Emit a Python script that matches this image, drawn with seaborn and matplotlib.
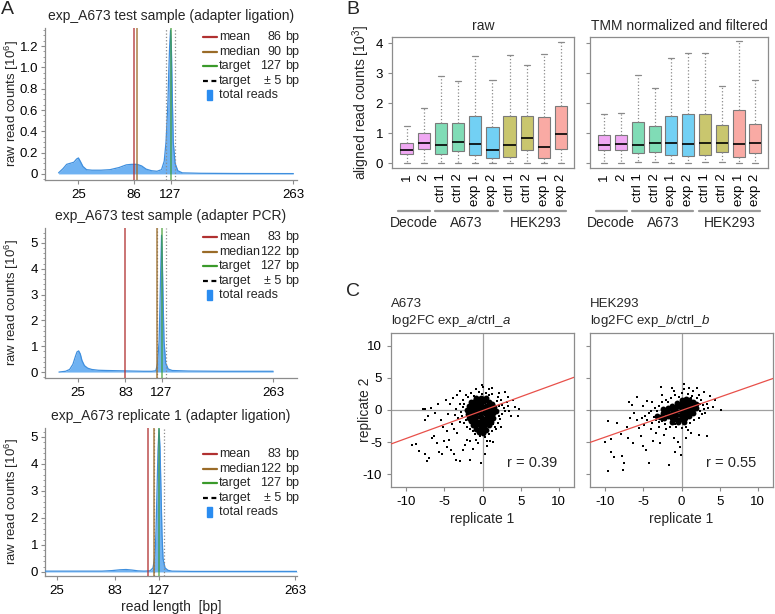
import numpy as np
import pandas as pd
import matplotlib
matplotlib.use("Agg")
import matplotlib.pyplot as plt
import matplotlib.transforms as mtransforms
from matplotlib.lines import Line2D
from matplotlib.patches import Rectangle
from matplotlib.ticker import AutoMinorLocator
import seaborn as sns

# ---------------- data ----------------
# Panel A: read length distributions (counts in 10^6)
len_a1 = [3, 8, 12, 16, 20, 23, 25, 27, 30, 34, 40, 50, 60, 70, 78, 84, 90, 95, 100, 106,
          112, 117, 120, 122, 124, 125, 126, 127, 128, 129, 130, 132, 135, 140, 160, 200, 263]
cnt_a1 = [0.01, 0.05, 0.09, 0.10, 0.11, 0.14, 0.15, 0.12, 0.07, 0.04, 0.035, 0.035, 0.04, 0.06,
          0.085, 0.09, 0.09, 0.075, 0.045, 0.03, 0.025, 0.04, 0.12, 0.3, 0.65, 0.95, 1.2, 1.35,
          1.15, 0.7, 0.3, 0.1, 0.03, 0.01, 0.006, 0.004, 0.003]
len_a2 = [2, 10, 15, 19, 22, 24, 26, 28, 30, 33, 37, 42, 50, 60, 75, 90, 105, 115, 120, 122,
          124, 125, 126, 127, 128, 129, 130, 132, 135, 140, 160, 200, 263]
cnt_a2 = [0.0, 0.03, 0.1, 0.3, 0.6, 0.78, 0.82, 0.7, 0.45, 0.25, 0.15, 0.1, 0.07, 0.06, 0.05,
          0.04, 0.03, 0.03, 0.05, 0.3, 1.2, 2.5, 4.0, 5.3, 4.2, 2.6, 1.2, 0.35, 0.12, 0.06,
          0.04, 0.03, 0.03]
len_a3 = [13, 30, 50, 70, 80, 88, 94, 100, 106, 112, 118, 121, 123, 124, 125, 126, 127, 128,
          129, 130, 131, 133, 136, 140, 160, 200, 265]
cnt_a3 = [0.03, 0.03, 0.03, 0.03, 0.05, 0.08, 0.09, 0.07, 0.04, 0.03, 0.04, 0.15, 0.6, 1.5,
          3.0, 4.5, 5.3, 4.6, 3.0, 1.4, 0.5, 0.15, 0.06, 0.03, 0.02, 0.02, 0.02]

titles_a = ["exp_A673 test sample (adapter ligation)",
            "exp_A673 test sample (adapter PCR)",
            "exp_A673 replicate 1 (adapter ligation)"]
mean_pos = [86, 83, 116]          # where the mean line is drawn
median_pos = [90, 122, 122]
mean_lbl = ["86", "83", "83"]
median_lbl = ["90", "122", "122"]
target = 127
xticks_a = [[25, 86, 127, 263], [25, 83, 127, 263], [25, 83, 127, 263]]

# Panel B: boxplot summaries (10^3): whisker low, q1, median, q3, whisker high
box_labels = ["1", "2", "ctrl 1", "ctrl 2", "exp 1", "exp 2", "ctrl 1", "ctrl 2", "exp 1", "exp 2"]
box_colors = ["#f0a8f3", "#f0a8f3", "#80dcb6", "#80dcb6", "#72d0f4", "#72d0f4",
              "#c9c66e", "#c9c66e", "#f9aaa4", "#f9aaa4"]
raw_lo = [0, 0, 0, 0, 0, 0, 0, 0, 0, 0]
raw_q1 = [0.30, 0.47, 0.32, 0.40, 0.27, 0.17, 0.22, 0.44, 0.16, 0.46]
raw_med = [0.43, 0.67, 0.60, 0.70, 0.63, 0.45, 0.60, 0.85, 0.53, 0.97]
raw_q3 = [0.67, 1.00, 1.35, 1.33, 1.58, 1.20, 1.57, 1.58, 1.55, 1.92]
raw_hi = [1.23, 1.83, 2.90, 2.75, 3.57, 2.77, 3.60, 3.28, 3.65, 4.05]
tmm_lo = [0, 0, 0.03, 0.03, 0, 0, 0.03, 0.03, 0, 0]
tmm_q1 = [0.43, 0.43, 0.33, 0.38, 0.26, 0.23, 0.26, 0.37, 0.20, 0.33]
tmm_med = [0.61, 0.63, 0.62, 0.67, 0.67, 0.64, 0.67, 0.69, 0.64, 0.67]
tmm_q3 = [0.93, 0.95, 1.37, 1.24, 1.58, 1.63, 1.65, 1.26, 1.78, 1.30]
tmm_hi = [1.65, 1.67, 2.95, 2.50, 3.50, 3.68, 3.68, 2.57, 4.08, 2.76]
group_names = ["Decode", "A673", "HEK293"]
group_spans = [(-0.5, 1.35), (1.65, 5.3), (5.65, 9.3)]
group_centers = [0.4, 3.5, 7.5]

# Panel C: log2FC replicate 1 vs replicate 2
a673_core = [(-0.8, 1.8), (-0.2, 1.9), (0.4, 1.8), (-1.5, 1.2), (-1.0, 1.4), (-0.4, 1.3),
             (0.2, 1.4), (0.8, 1.2), (1.3, 1.0), (-1.8, 0.6), (-1.3, 0.8), (-0.8, 0.7), (-0.2, 0.8),
             (0.4, 0.7), (1.0, 0.6), (1.5, 0.5), (-2.0, 0.0), (-1.5, 0.2), (-1.0, 0.1), (-0.4, 0.2),
             (0.2, 0.1), (0.8, 0.0), (1.3, 0.1), (1.8, -0.1), (-1.9, -0.6), (-1.4, -0.4), (-0.9, -0.5),
             (-0.3, -0.4), (0.3, -0.5), (0.9, -0.6), (1.4, -0.5), (-1.8, -1.2), (-1.3, -1.0),
             (-0.8, -1.1), (-0.2, -1.1), (0.4, -1.2), (1.0, -1.0), (1.4, -1.2), (-1.5, -1.7),
             (-1.0, -1.6), (-0.5, -1.8), (0.1, -1.7), (0.7, -1.6), (1.1, -1.8), (-1.2, -2.3),
             (-0.7, -2.2), (-0.2, -2.4), (0.4, -2.2), (0.8, -2.4), (-0.8, -2.9), (-0.3, -3.0),
             (0.2, -2.8), (0.5, -3.1), (-0.4, -3.5), (0.1, -3.6)]
a673_rest = [(-3.0, 1.0), (-2.8, -0.3), (-3.2, -1.2), (-2.6, 1.6), (-2.4, -2.0), (-3.5, 0.2),
             (-2.9, -1.8), (-2.2, 2.3), (-1.5, 2.6), (-0.5, 2.8), (0.5, 2.7), (1.3, 2.5), (2.0, 2.0),
             (2.4, 1.5), (2.6, 0.8), (2.8, 0.3), (2.5, -0.6), (2.3, -1.4), (2.0, -2.0), (1.6, -2.6),
             (1.2, -3.2), (0.9, -3.8), (0.3, -4.2), (-0.3, -4.1), (-1.0, -3.7), (-1.6, -3.0),
             (-2.0, -2.6), (3.2, 1.2), (3.0, -0.2), (-0.9, 3.3), (0.1, 3.6), (0.8, 3.2), (-1.9, 2.0),
             (1.8, -3.0), (-0.8, -4.6), (0.6, -4.8), (-3.6, -0.8), (3.4, 0.6), (2.2, 2.6), (-2.5, 0.4),
             (-7.8, 0.1), (-7.5, 0.2), (-7.2, -1.0), (-7.6, -1.6), (-6.8, 0.3), (-6.2, -0.5),
             (-5.5, -1.5), (-5.2, -2.6), (-4.8, 1.5), (-4.5, -0.6), (-4.2, 0.9), (-3.9, 1.8),
             (-4.0, -2.2), (-3.8, -3.0), (-9.3, -5.5), (-8.7, -5.3), (-8.3, -6.4), (-7.6, -6.8),
             (-7.3, -8.0), (-7.0, -7.5), (-6.6, -4.3), (-6.3, -4.0), (-6.0, -5.2), (-5.7, -6.5),
             (-5.3, -6.8), (-5.0, -4.8), (-4.7, -5.8), (-4.4, -4.6), (-4.1, -6.3), (-3.8, -6.8),
             (-3.5, -7.8), (-3.0, -8.0), (-2.6, -6.2), (-2.3, -5.4), (-2.0, -4.6), (-1.6, -7.8),
             (-1.2, -6.1), (-0.6, -5.2), (-0.2, -8.2), (0.3, -6.8), (0.6, -5.6), (1.0, -4.9),
             (1.4, -5.0), (-1.7, -4.9), (-3.3, -3.6), (-4.6, -3.3), (3.5, -0.2), (4.0, 1.5),
             (4.3, 0.5), (4.8, 0.1), (4.6, -0.9), (3.8, -1.0), (2.9, 2.8), (3.3, 2.1), (-2.9, 2.9),
             (-0.1, 3.9), (1.2, 3.4), (-5.9, 0.9), (-3.4, 2.4), (2.4, -2.7), (-2.7, -1.0),
             (-2.4, 1.0), (1.9, 1.4), (2.1, -1.0), (-1.2, -3.3), (1.4, -2.2), (-2.2, -1.6),
             (0.9, 2.3), (-1.1, 2.2), (-0.1, 2.5), (2.2, 0.6)]
hek_core = [(-2.8, -1.1), (-2.3, -1.2), (-2.4, -0.5), (-1.8, -1.0), (-1.9, -0.3), (-1.8, 0.3),
            (-1.3, -1.2), (-1.3, -0.5), (-1.3, 0.1), (-1.2, 0.7), (-0.7, -1.4), (-0.7, -0.8),
            (-0.7, -0.1), (-0.7, 0.5), (-0.6, 1.1), (-0.1, -1.4), (-0.1, -0.8), (-0.1, -0.2),
            (-0.1, 0.4), (-0.1, 1.0), (0.0, 1.6), (0.5, -1.2), (0.5, -0.6), (0.5, 0.0), (0.5, 0.6),
            (0.5, 1.2), (0.6, 1.7), (1.0, -0.9), (1.0, -0.3), (1.0, 0.3), (1.0, 0.9), (1.0, 1.5),
            (1.5, -0.5), (1.5, 0.1), (1.5, 0.7), (1.5, 1.2), (1.9, 0.3), (1.9, 0.9), (-3.2, -0.9),
            (-2.4, 0.1), (-1.2, -1.8), (-0.4, -1.9), (0.3, -1.8)]
hek_rest = [(-4.5, -1.6), (-4.2, -0.5), (-4.8, -0.9), (-3.9, -2.0), (-3.5, 0.3), (-3.0, 0.6),
            (-2.6, 1.2), (-2.0, 1.6), (-1.4, 1.9), (-0.8, 2.4), (0.0, 2.6), (0.8, 2.5), (1.4, 2.2),
            (2.0, 1.8), (2.6, 1.5), (2.8, 0.8), (2.9, 0.1), (2.7, -0.7), (2.3, -1.2), (1.7, -1.6),
            (1.1, -2.0), (0.6, -2.6), (0.0, -2.8), (-0.7, -2.7), (-1.5, -2.6), (-2.2, -2.2),
            (-2.9, -1.9), (-3.4, -1.6), (-5.2, -1.2), (-4.9, -2.3), (3.3, 1.0), (3.1, -0.5),
            (3.5, 0.3), (-1.0, 3.0), (0.3, 3.3), (1.5, 2.9), (2.3, 2.4), (-3.0, -2.6), (-2.0, -3.0),
            (0.9, -3.1), (-10.0, -5.0), (-9.7, -9.5), (-9.2, -6.5), (-8.9, -7.3), (-8.0, -3.8),
            (-7.7, -9.4), (-7.5, -8.2), (-7.8, -7.2), (-9.3, -4.5), (-9.6, -1.7), (-8.4, -2.1),
            (-7.2, -2.7), (-6.9, 1.3), (-6.5, 0.8), (-6.2, -0.4), (-5.9, -1.5), (-5.6, -2.8),
            (-5.3, -4.0), (-5.0, -5.6), (-6.4, -5.1), (-7.0, -4.3), (-4.7, -6.2), (-4.2, -8.2),
            (-3.7, -4.8), (-3.3, -3.6), (-2.8, -5.1), (-2.3, -3.9), (-1.6, -8.6), (-1.0, -4.4),
            (-0.5, -5.0), (-0.2, -5.8), (-0.1, -7.0), (-0.9, -6.6), (0.6, -4.3), (1.3, -3.6),
            (2.3, -3.9), (3.3, -4.0), (-2.7, 3.6), (-1.2, 3.5), (0.3, 4.1), (1.0, 3.5), (2.0, 3.4),
            (2.9, 2.8), (3.8, 2.2), (4.4, 1.5), (5.2, 0.0), (4.1, 0.5), (-5.8, 2.0), (-4.5, 1.4),
            (-3.9, 1.2), (-6.8, -1.2), (-5.0, 0.6), (-4.0, -3.0), (-2.6, 2.4), (-3.6, -1.1),
            (-4.0, -0.2), (-3.2, -0.2), (2.4, -0.2), (2.4, 0.9), (-1.8, 1.2), (-0.3, 2.1),
            (1.2, 1.9), (-2.6, -1.7), (-0.9, -2.2)]
fit_slope = [0.433, 0.415]
fit_icpt = [-0.1, -0.07]
r_values = ["r = 0.39", "r = 0.55"]
c_titles = ["A673\nlog2FC exp_$\\mathit{a}$/ctrl_$\\mathit{a}$",
            "HEK293\nlog2FC exp_$\\mathit{b}$/ctrl_$\\mathit{b}$"]

# ---------------- style ----------------
sns.set_style("ticks")
plt.rcParams['font.family'] = ['Liberation Sans', 'DejaVu Sans']
plt.rcParams['mathtext.fontset'] = 'custom'
plt.rcParams['mathtext.rm'] = 'Liberation Sans'
plt.rcParams['mathtext.it'] = 'Liberation Sans:italic'
plt.rcParams['axes.unicode_minus'] = False
plt.rcParams['font.size'] = 9.5

W, H = 775, 614
fig = plt.figure(figsize=(W / 100, H / 100), dpi=100)
GRAY = "#8c8c8c"
MEAN_C, MED_C, TGT_C = "#b03030", "#9a6b28", "#3a9a2a"
FILL, EDGE = "#6fb2f2", "#3f8fde"


def px_axes(l, t, r, b):
    return fig.add_axes([l / W, 1 - b / H, (r - l) / W, (b - t) / H])


def style_frame(ax, full=True):
    for s in ax.spines.values():
        s.set_color(GRAY)
        s.set_linewidth(0.9)
    if not full:
        ax.spines['top'].set_visible(False)
        ax.spines['right'].set_visible(False)
    ax.tick_params(colors=GRAY, labelcolor="black", length=3, width=0.8, labelsize=9.5)


# ---------------- panel A ----------------
a_boxes = [(45, 28, 297, 180), (45, 228, 297, 378), (45, 428, 297, 576)]
a_lens = [len_a1, len_a2, len_a3]
a_cnts = [cnt_a1, cnt_a2, cnt_a3]
a_xlim = [(-12, 267), (-15, 292), (13, 265)]
a_ylim = [(-0.057, 1.37), (-0.23, 5.58), (-0.15, 5.33)]
a_leg_top = [37, 237, 454]

for i in range(3):
    ax = px_axes(*a_boxes[i])
    ax.fill_between(a_lens[i], a_cnts[i], color=FILL, lw=0, zorder=2)
    sns.lineplot(x=a_lens[i], y=a_cnts[i], color=EDGE, lw=0.9, ax=ax, zorder=3)
    for v in (target - 5, target + 5):
        ax.axvline(v, color="#8a8a8a", ls=":", lw=0.9, zorder=4)
    ax.axvline(mean_pos[i], color=MEAN_C, lw=1.1, alpha=0.85, zorder=5)
    ax.axvline(median_pos[i], color=MED_C, lw=1.1, alpha=0.85, zorder=5)
    ax.axvline(target, color=TGT_C, lw=1.1, alpha=0.75, zorder=5)
    ax.set_xlim(*a_xlim[i])
    ax.set_ylim(*a_ylim[i])
    ax.set_xticks(xticks_a[i])
    if i == 0:
        ax.set_yticks([0, 0.2, 0.4, 0.6, 0.8, 1.0, 1.2], ["0", "0.2", "0.4", "0.6", "0.8", "1.0", "1.2"])
        ax.yaxis.set_minor_locator(AutoMinorLocator(4))
    else:
        ax.set_yticks([0, 1, 2, 3, 4, 5])
        ax.yaxis.set_minor_locator(AutoMinorLocator(5))
    style_frame(ax, full=False)
    ax.tick_params(axis='y', which='major', pad=2)
    ax.tick_params(axis='y', which='minor', length=1.8, colors=GRAY)
    ax.set_ylabel("raw read counts [10$^{6}$]", fontsize=9.5)
    ax.yaxis.set_label_coords(-0.094, 0.5)
    ax.set_title(titles_a[i], fontsize=10, pad=6)
    if i == 2:
        ax.set_xlabel("read length  [bp]", fontsize=10, labelpad=2)

    # legend block
    names = ["mean", "median", "target", "target", "total reads"]
    vals = [mean_lbl[i], median_lbl[i], "127", "\u00b1 5"]
    styles = [(MEAN_C, "-"), (MED_C, "-"), (TGT_C, "-"), ("black", (0, (2.2, 1.6)))]
    for k, name in enumerate(names):
        yy = 1 - (a_leg_top[i] + k * 14.6) / H
        if k < 4:
            fig.add_artist(Line2D([203 / W, 217 / W], [yy, yy], color=styles[k][0],
                                  ls=styles[k][1], lw=1.6))
            fig.text(281 / W, yy, vals[k], ha="right", va="center", fontsize=9)
            fig.text(285 / W, yy, "bp", ha="left", va="center", fontsize=9)
        else:
            fig.add_artist(Rectangle((207 / W, yy - 5 / H), 5 / W, 10 / H, color="#2a8cf0"))
        fig.text(219 / W, yy, name, ha="left", va="center", fontsize=9)

# ---------------- panel B ----------------
box_ids = [f"s{i}" for i in range(10)]
b_sets = [(raw_lo, raw_q1, raw_med, raw_q3, raw_hi), (tmm_lo, tmm_q1, tmm_med, tmm_q3, tmm_hi)]
b_boxes = [(392, 37, 574, 168), (590, 37, 768, 168)]
b_titles = ["raw", "TMM normalized and filtered"]
for j in range(2):
    ax = px_axes(*b_boxes[j])
    rows = []
    for k in range(10):
        for arr in b_sets[j]:
            rows.append({"id": box_ids[k], "val": arr[k]})
    df = pd.DataFrame(rows)
    sns.boxplot(data=df, x="id", y="val", hue="id", order=box_ids, hue_order=box_ids,
                palette=dict(zip(box_ids, box_colors)), whis=(0, 100), width=0.72,
                saturation=1, linewidth=0.8, linecolor="#7a7a7a", showfliers=False,
                legend=False, ax=ax,
                medianprops=dict(color="black", lw=1.2),
                whiskerprops=dict(ls=":", color="#8a8a8a", lw=0.9),
                capprops=dict(color="#8a8a8a", lw=0.9))
    ax.set_xlim(-0.85, 9.75)
    ax.set_ylim(-0.157, 4.21)
    ax.set_yticks([0, 1, 2, 3, 4])
    ax.set_xticks(range(10))
    ax.set_xticklabels(box_labels, rotation=90, fontsize=9.5)
    style_frame(ax)
    ax.tick_params(axis="x", length=0, pad=4)
    ax.set_xlabel("")
    ax.set_title(b_titles[j], fontsize=10, pad=5)
    if j == 0:
        ax.set_ylabel("aligned read counts [10$^{3}$]", fontsize=10)
        ax.yaxis.set_label_coords(-0.11, 0.5)
    else:
        ax.set_ylabel("")
        ax.set_yticklabels([])
    trans = mtransforms.blended_transform_factory(ax.transData, ax.transAxes)
    for name, (x0, x1), xc in zip(group_names, group_spans, group_centers):
        ax.plot([x0, x1], [-0.33, -0.33], color="#9a9a9a", lw=1.6, transform=trans, clip_on=False)
        ax.text(xc, -0.37, name, ha="center", va="top", fontsize=10, transform=trans)

# ---------------- panel C ----------------
c_boxes = [(391, 333, 574, 487), (590, 333, 773, 487)]
c_core = [a673_core, hek_core]
c_rest = [a673_rest, hek_rest]
for j in range(2):
    ax = px_axes(*c_boxes[j])
    ax.axhline(0, color="#a0a0a0", lw=0.9, zorder=1)
    ax.axvline(0, color="#a0a0a0", lw=0.9, zorder=1)
    core = np.array(c_core[j])
    rest = np.array(c_rest[j])
    sns.scatterplot(x=core[:, 0], y=core[:, 1], s=18, color="black", linewidth=0, ax=ax, zorder=3)
    sns.scatterplot(x=rest[:, 0], y=rest[:, 1], s=3.5, color="black", linewidth=0, marker="s",
                    ax=ax, zorder=3)
    ax.axline((0, fit_icpt[j]), slope=fit_slope[j], color="#e8504a", lw=0.9, zorder=4)
    ax.set_xlim(-12, 12)
    ax.set_ylim(-12, 12)
    ax.set_xticks([-10, -5, 0, 5, 10])
    ax.set_yticks([-10, -5, 0, 5, 10])
    style_frame(ax)
    ax.text(0.77, 0.155, r_values[j], transform=ax.transAxes, ha="center", va="center", fontsize=10.5)
    ax.text(0.0, 1.025, c_titles[j], transform=ax.transAxes, ha="left", va="bottom",
            fontsize=9.5, linespacing=1.25)
    ax.set_xlabel("replicate 1", fontsize=10, labelpad=3)
    if j == 0:
        ax.set_ylabel("replicate 2", fontsize=10)
        ax.yaxis.set_label_coords(-0.104, 0.5)
    else:
        ax.set_ylabel("")
        ax.set_yticklabels([])

# panel letters
fig.text(1 / W, 1 - 9 / H, "A", fontsize=14, va="center", ha="left")
fig.text(346 / W, 1 - 10 / H, "B", fontsize=14, va="center", ha="left")
fig.text(346 / W, 1 - 292 / H, "C", fontsize=14, va="center", ha="left")

fig.savefig("out.png", dpi=100)
